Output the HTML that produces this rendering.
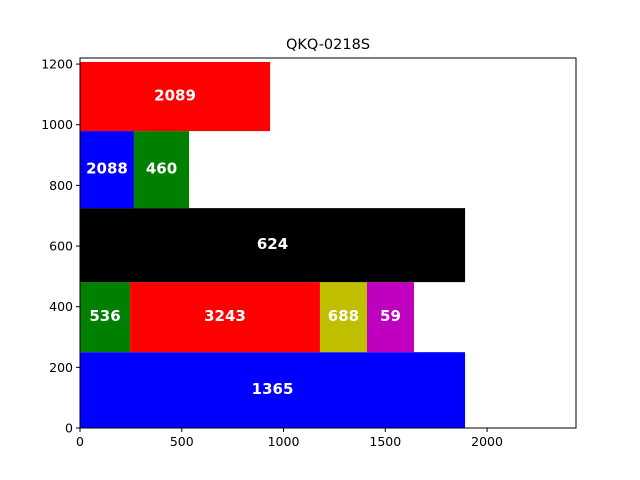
<!DOCTYPE html>
<html><head><meta charset="utf-8">
<style>body{margin:0;background:#fff}svg{display:block;font-family:"DejaVu Sans","Liberation Sans",sans-serif}</style>
</head><body>
<svg id="chart" width="640" height="480">
<rect width="640" height="480" fill="#fff"/>
<text x="328" y="49" text-anchor="middle" font-size="14.5">QKQ-0218S</text>
<g id="marks"></g>
<g id="axes"></g>
</svg>
<script>
const labels = ["1365","536","3243","688","59","624","2088","460","2089"];
const xStart = [0,0,246,1179,1410,0,0,265,0];
const xEnd = [1892,246,1179,1410,1641,1892,265,536,934];
const yStart = [0,250,250,250,250,481,725,725,979];
const yEnd = [250,481,481,481,481,725,979,979,1207];
const colors = ["#0000ff","#008000","#ff0000","#bfbf00","#bf00bf","#000000","#0000ff","#008000","#ff0000"];
const xTicks = [0,500,1000,1500,2000];
const yTicks = [0,200,400,600,800,1000,1200];
const xMax = 2437, yMax = 1220;
const L=80,R=576,T=58,B=428;
const sx = v => L + v/xMax*(R-L);
const sy = v => B - v/yMax*(B-T);
const NS="http://www.w3.org/2000/svg";
const marks=document.getElementById('marks'), axes=document.getElementById('axes');
function mk(tag, attrs, parent){const e=document.createElementNS(NS,tag);for(const k in attrs)e.setAttribute(k,attrs[k]);parent.appendChild(e);return e;}
labels.forEach((lab,i)=>{
  const r=mk('rect',{x:sx(xStart[i]),y:sy(yEnd[i]),width:sx(xEnd[i])-sx(xStart[i]),height:sy(yStart[i])-sy(yEnd[i]),fill:colors[i]},marks);
  
  
  const t=mk('text',{x:(sx(xStart[i])+sx(xEnd[i]))/2,y:(sy(yStart[i])+sy(yEnd[i]))/2+4,'text-anchor':'middle','font-size':'15','font-weight':'bold',fill:'#fff'},marks);
  t.textContent=lab;
  
  
});
const frame=mk('rect',{x:L,y:T,width:R-L,height:B-T,fill:'none',stroke:'#000','stroke-width':1},axes);


xTicks.forEach(v=>{
  const x=sx(v);
  mk('line',{x1:x,x2:x,y1:B,y2:B+4,stroke:'#000'},axes);
  const t=mk('text',{x:x,y:B+18,'text-anchor':'middle','font-size':'12.5'},axes);
  t.textContent=v;
  
  
});
yTicks.forEach(v=>{
  const y=sy(v);
  mk('line',{x1:L-4,x2:L,y1:y,y2:y,stroke:'#000'},axes);
  const t=mk('text',{x:L-7,y:y+4.5,'text-anchor':'end','font-size':'12.5'},axes);
  t.textContent=v;
  
  
});
</script>
</body></html>
